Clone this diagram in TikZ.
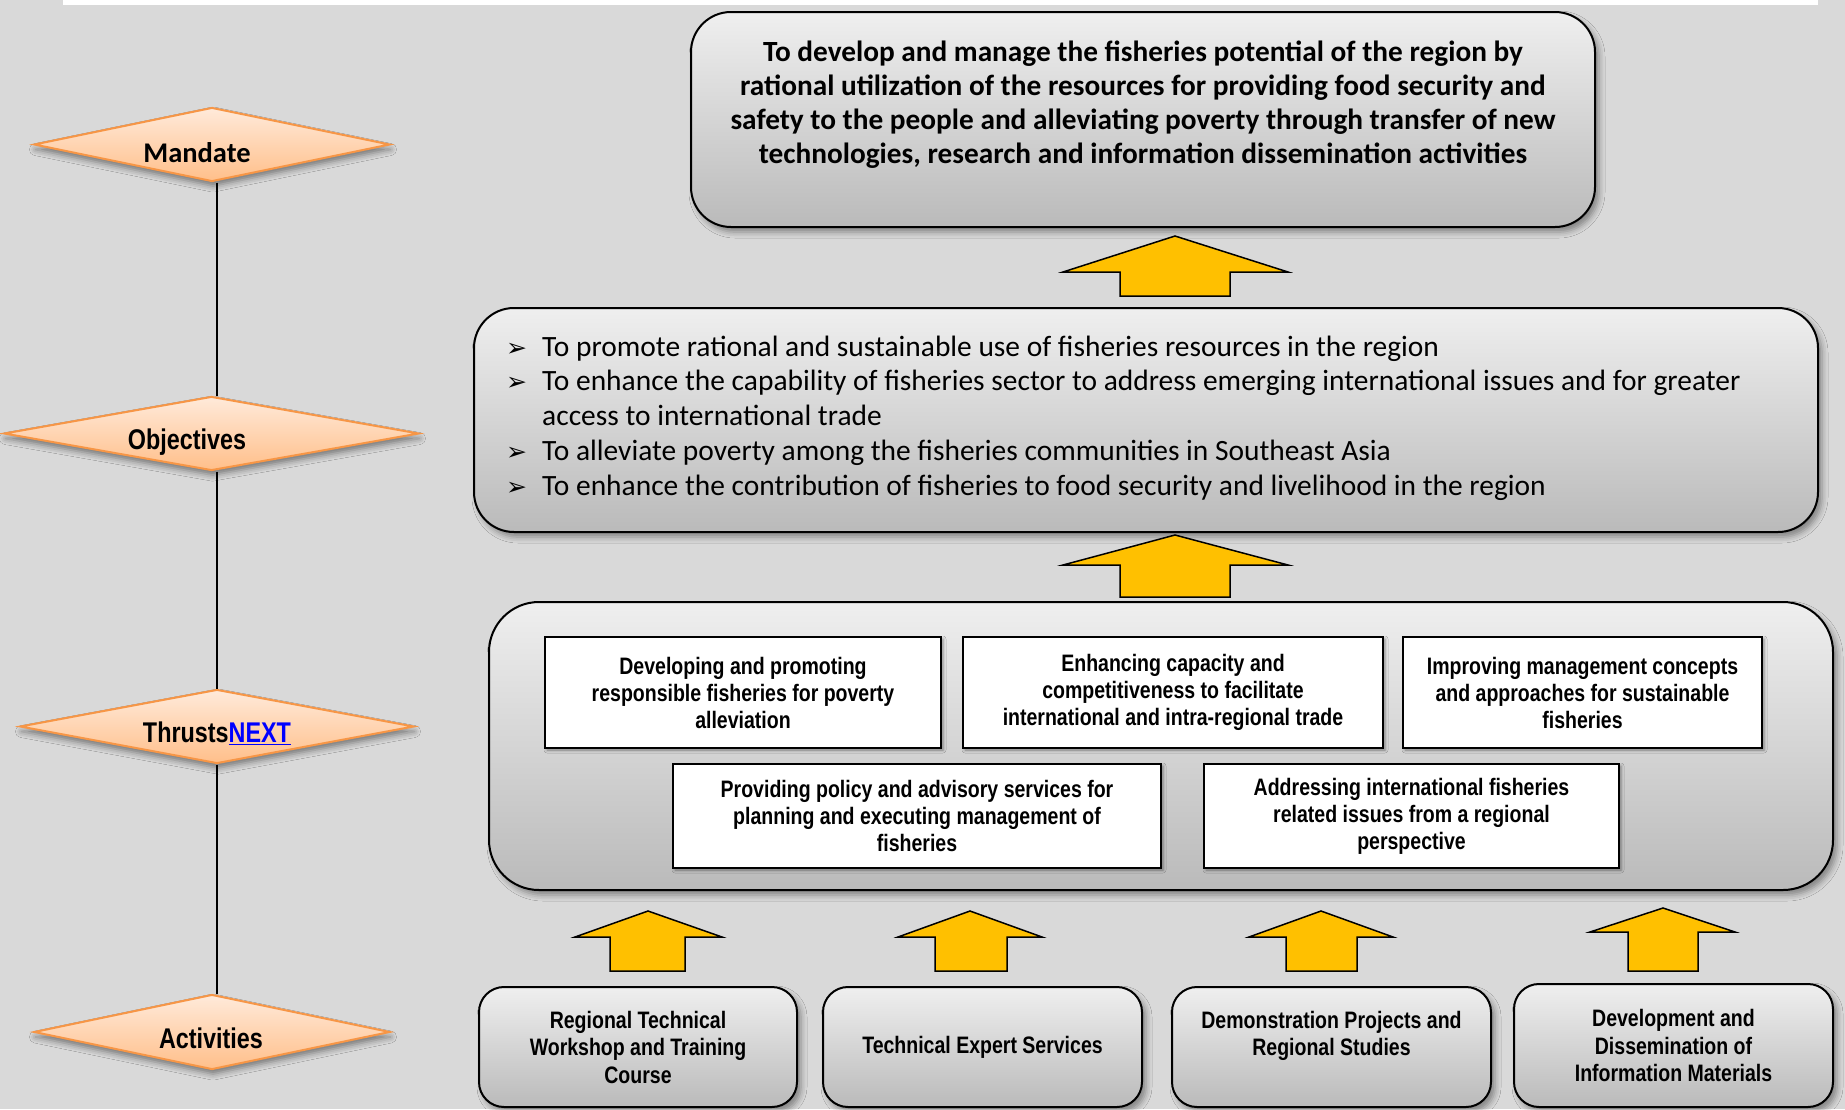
\documentclass[tikz,border=0pt]{standalone}
\usepackage{fontspec}
\setmainfont{Carlito}
\newfontfamily\narrowfont[FakeStretch=0.82]{Liberation Sans}
\newfontfamily\dejavufont{DejaVu Sans}
\usetikzlibrary{shapes.geometric,shadows.blur}
\definecolor{bgray}{HTML}{D9D9D9}
\definecolor{dorange}{HTML}{F79646}
\definecolor{dtop}{HTML}{FFEADA}
\definecolor{dbot}{HTML}{FFBF8A}
\definecolor{btop}{HTML}{EFEFEF}
\definecolor{bbot}{HTML}{BABABA}
\definecolor{arrowy}{HTML}{FFC000}
\newcommand\objbullet{{\dejavufont\fontsize{25}{25}\selectfont ➢}}
\tikzset{
 lvl/.style={shape=diamond, draw=dorange, line width=2pt, top color=dtop, bottom color=dbot,
   inner sep=0pt, minimum height=74pt,
   blur shadow={shadow xshift=1pt, shadow yshift=-5pt, shadow blur radius=6pt, shadow opacity=45}},
 lvltext/.style={font=\narrowfont\bfseries\fontsize{28.5}{32}\selectfont, inner sep=0pt},
 graybox/.style={draw=black, line width=2pt, rounded corners=40pt, top color=btop, bottom color=bbot,
   inner sep=0pt,
   blur shadow={shadow xshift=4pt, shadow yshift=-5pt, shadow blur radius=6pt, shadow opacity=40}},
 thrustbox/.style={draw=black, line width=1.6pt, fill=white, inner sep=0pt, align=center,
   font=\narrowfont\bfseries\fontsize{23.8}{27}\selectfont,
   blur shadow={shadow xshift=2pt, shadow yshift=-2pt, shadow blur radius=3pt, shadow opacity=40}},
 actbox/.style={graybox, rounded corners=25pt, align=center,
   font=\narrowfont\bfseries\fontsize{23.8}{27.5}\selectfont},
 blockarrow/.style={fill=arrowy, draw=black, line width=1.5pt, line join=miter},
}
\begin{document}
\begin{tikzpicture}[x=1pt,y=-1pt]
\useasboundingbox (0,0) rectangle (1845,1109);
\fill[bgray] (0,0) rectangle (1845,1109);
\fill[white] (63,0) rectangle (1818,5);

% level diamonds
\node[lvl, minimum width=356pt] (mandate) at (212,144.5) {};
\node[lvl, minimum width=415pt] (objectives) at (211.5,433.5) {};
\node[lvl, minimum width=394pt] (thrusts) at (217,726.5) {};
\node[lvl, minimum width=356pt, minimum height=75pt] (activities) at (212,1032) {};
\coordinate (lx) at (217,0);
\draw[line width=1.6pt] (mandate.south -| lx) -- (objectives.north -| lx);
\draw[line width=1.6pt] (objectives.south -| lx) -- (thrusts.north -| lx);
\draw[line width=1.6pt] (thrusts.south -| lx) -- (activities.north -| lx);
\node[inner sep=0pt, font=\bfseries\fontsize{28.5}{32}\selectfont] (mandlabel) at (197,152.5) {Mandate};
\node[lvltext] (objlabel) at (187,442.5) {Objectives};
\node[lvltext] (thrlabel) at (217,733) {Thrusts\textcolor{blue}{\underline{NEXT}}};
\node[lvltext] (actlabel) at (211,1038) {Activities};

% mandate box
\node[graybox, minimum width=904pt, minimum height=215pt] (mandbox) at (1143,119.5) {};
\node[align=center, inner sep=0pt, font=\bfseries\fontsize{29.3}{34}\selectfont] (mandtext) at (1143,104.5)
 {To develop and manage the fisheries potential of the region by\\
  rational utilization of the resources for providing food security and\\
  safety to the people and alleviating poverty through transfer of new\\
  technologies, research and information dissemination activities};

% objectives box
\node[graybox, minimum width=1344pt, minimum height=224pt] (objbox) at (1146,420) {};
\node[anchor=base west, inner sep=0pt, font=\fontsize{29.45}{34.8}\selectfont] (objtext) at (506,356) {%
\begin{tabular}[t]{@{}p{36pt}@{}l@{}}
\objbullet & To promote rational and sustainable use of fisheries resources in the region\\
\objbullet & To enhance the capability of fisheries sector to address emerging international issues and for greater\\
 & access to international trade\\
\objbullet & To alleviate poverty among the fisheries communities in Southeast Asia\\
\objbullet & To enhance the contribution of fisheries to food security and livelihood in the region
\end{tabular}};

% thrusts box
\node[graybox, rounded corners=50pt, minimum width=1344pt, minimum height=288pt] (thrbox) at (1161,746) {};
\node[thrustbox, minimum width=396pt, minimum height=111pt] (t1) at (743,692.5)
 {Developing and promoting\\responsible fisheries for poverty\\alleviation};
\node[thrustbox, minimum width=420pt, minimum height=111pt] (t2) at (1173,692.5)
 {Enhancing capacity and\\competitiveness to facilitate\\international and intra-regional trade};
\node[thrustbox, minimum width=359pt, minimum height=111pt] (t3) at (1582.5,692.5)
 {Improving management concepts\\and approaches for sustainable\\fisheries};
\node[thrustbox, minimum width=488pt, minimum height=104pt] (t4) at (917,816)
 {Providing policy and advisory services for\\planning and executing management of\\fisheries};
\node[thrustbox, minimum width=415pt, minimum height=104pt] (t5) at (1411.5,816)
 {Addressing international fisheries\\related issues from a regional\\perspective};

% activity boxes
\node[actbox, minimum width=318pt, minimum height=120pt] (a1) at (638,1047)
 {Regional Technical\\Workshop and Training\\Course};
\node[actbox, minimum width=319pt, minimum height=120pt] (a2) at (982.5,1047)
 {Technical Expert Services};
\node[actbox, minimum width=319pt, minimum height=120pt] (a3) at (1331.5,1047)
 {Demonstration Projects and\\Regional Studies\\\mbox{}};
\node[actbox, minimum width=319pt, minimum height=123pt] (a4) at (1673.5,1045.5)
 {Development and\\Dissemination of\\Information Materials};

% block arrows
\draw[blockarrow] (1175,236) -- (1288,272) -- (1230,272) -- (1230,296) -- (1120,296) -- (1120,272) -- (1063,272) -- cycle;
\draw[blockarrow] (1175,535) -- (1288,565) -- (1230,565) -- (1230,597) -- (1120,597) -- (1120,565) -- (1063,565) -- cycle;
\draw[blockarrow] (648,911) -- (722,937) -- (685,937) -- (685,971) -- (610,971) -- (610,937) -- (575,937) -- cycle;
\draw[blockarrow] (970,911) -- (1042,937) -- (1007,937) -- (1007,971) -- (935,971) -- (935,937) -- (898,937) -- cycle;
\draw[blockarrow] (1321,911) -- (1393,937) -- (1357,937) -- (1357,971) -- (1286,971) -- (1286,937) -- (1249,937) -- cycle;
\draw[blockarrow] (1663,908) -- (1735,932) -- (1698,932) -- (1698,971) -- (1628,971) -- (1628,932) -- (1590,932) -- cycle;
\end{tikzpicture}
\end{document}
